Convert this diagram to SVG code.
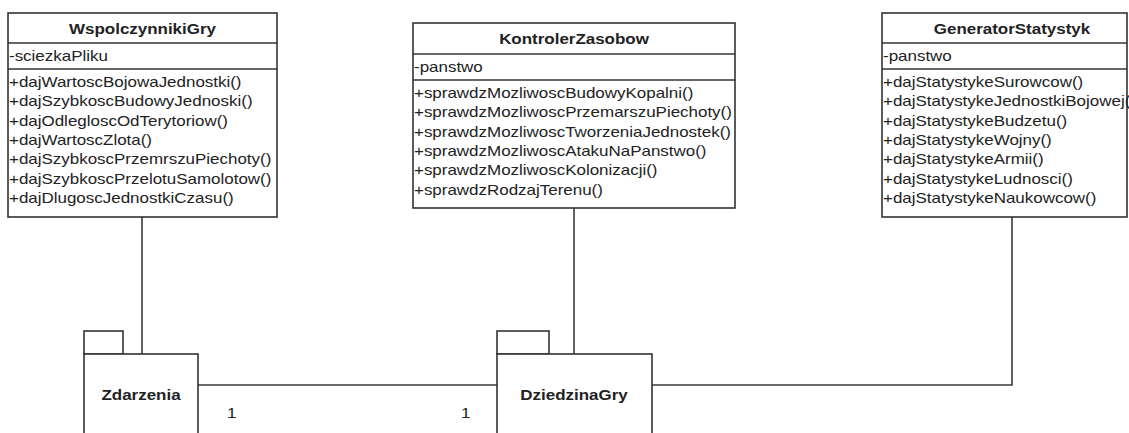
<svg xmlns="http://www.w3.org/2000/svg" width="1129" height="433" viewBox="0 0 1129 433">
<style>
.box{fill:#fff;stroke:#333;stroke-width:1.6}
.div{stroke:#333;stroke-width:1.6}
.conn{fill:none;stroke:#3a3a3a;stroke-width:1.6}
text{font-family:"Liberation Sans",Arial,sans-serif;font-size:14.5px;fill:#222}
.t{font-weight:bold;text-anchor:middle}
</style>
<rect width="1129" height="433" fill="#fff"/>
<g id="connectors">
<line class="conn" x1="142" y1="217" x2="142" y2="354"/>
<line class="conn" x1="574" y1="208" x2="574" y2="354"/>
<polyline class="conn" points="1012,217 1012,385 652,385"/>
<line class="conn" x1="198" y1="385" x2="497" y2="385"/>
<text transform="translate(227,418) scale(1.17,1)">1</text>
<text transform="translate(461,418) scale(1.17,1)">1</text>
</g>
<g id="WspolczynnikiGry">
<rect class="box" x="8" y="13" width="269" height="204"/>
<line class="div" x1="8" y1="43" x2="277" y2="43"/>
<line class="div" x1="8" y1="69" x2="277" y2="69"/>
<text class="t" transform="translate(142.5,34) scale(1.17,1)">WspolczynnikiGry</text>
<text transform="translate(9,61) scale(1.17,1)">-sciezkaPliku</text>
<text transform="translate(9,87) scale(1.17,1)">+dajWartoscBojowaJednostki()</text>
<text transform="translate(9,106.3) scale(1.17,1)">+dajSzybkoscBudowyJednoski()</text>
<text transform="translate(9,125.7) scale(1.17,1)">+dajOdlegloscOdTerytoriow()</text>
<text transform="translate(9,145) scale(1.17,1)">+dajWartoscZlota()</text>
<text transform="translate(9,164.3) scale(1.17,1)">+dajSzybkoscPrzemrszuPiechoty()</text>
<text transform="translate(9,183.7) scale(1.17,1)">+dajSzybkoscPrzelotuSamolotow()</text>
<text transform="translate(9,203) scale(1.17,1)">+dajDlugoscJednostkiCzasu()</text>
</g>
<g id="KontrolerZasobow">
<rect class="box" x="413" y="23" width="322" height="185"/>
<line class="div" x1="413" y1="54" x2="735" y2="54"/>
<line class="div" x1="413" y1="80" x2="735" y2="80"/>
<text class="t" transform="translate(574,44) scale(1.17,1)">KontrolerZasobow</text>
<text transform="translate(414,71.5) scale(1.17,1)">-panstwo</text>
<text transform="translate(414,98) scale(1.17,1)">+sprawdzMozliwoscBudowyKopalni()</text>
<text transform="translate(414,117.3) scale(1.17,1)">+sprawdzMozliwoscPrzemarszuPiechoty()</text>
<text transform="translate(414,136.7) scale(1.17,1)">+sprawdzMozliwoscTworzeniaJednostek()</text>
<text transform="translate(414,156) scale(1.17,1)">+sprawdzMozliwoscAtakuNaPanstwo()</text>
<text transform="translate(414,175.3) scale(1.17,1)">+sprawdzMozliwoscKolonizacji()</text>
<text transform="translate(414,194.7) scale(1.17,1)">+sprawdzRodzajTerenu()</text>
</g>
<g id="GeneratorStatystyk">
<rect class="box" x="882" y="13" width="245" height="204"/>
<line class="div" x1="882" y1="43" x2="1127" y2="43"/>
<line class="div" x1="882" y1="69" x2="1127" y2="69"/>
<text class="t" transform="translate(1012,34) scale(1.17,1)">GeneratorStatystyk</text>
<text transform="translate(883,61) scale(1.17,1)">-panstwo</text>
<text transform="translate(883,87) scale(1.17,1)">+dajStatystykeSurowcow()</text>
<text transform="translate(883,106.3) scale(1.17,1)">+dajStatystykeJednostkiBojowej()</text>
<text transform="translate(883,125.7) scale(1.17,1)">+dajStatystykeBudzetu()</text>
<text transform="translate(883,145) scale(1.17,1)">+dajStatystykeWojny()</text>
<text transform="translate(883,164.3) scale(1.17,1)">+dajStatystykeArmii()</text>
<text transform="translate(883,183.7) scale(1.17,1)">+dajStatystykeLudnosci()</text>
<text transform="translate(883,203) scale(1.17,1)">+dajStatystykeNaukowcow()</text>
</g>
<g id="Zdarzenia">
<rect class="box" x="84" y="331" width="39" height="23"/>
<rect class="box" x="84" y="354" width="114" height="90"/>
<text class="t" transform="translate(141,400) scale(1.17,1)">Zdarzenia</text>
</g>
<g id="DziedzinaGry">
<rect class="box" x="497" y="331" width="52" height="23"/>
<rect class="box" x="497" y="354" width="155" height="90"/>
<text class="t" transform="translate(574,400) scale(1.17,1)">DziedzinaGry</text>
</g>
</svg>
